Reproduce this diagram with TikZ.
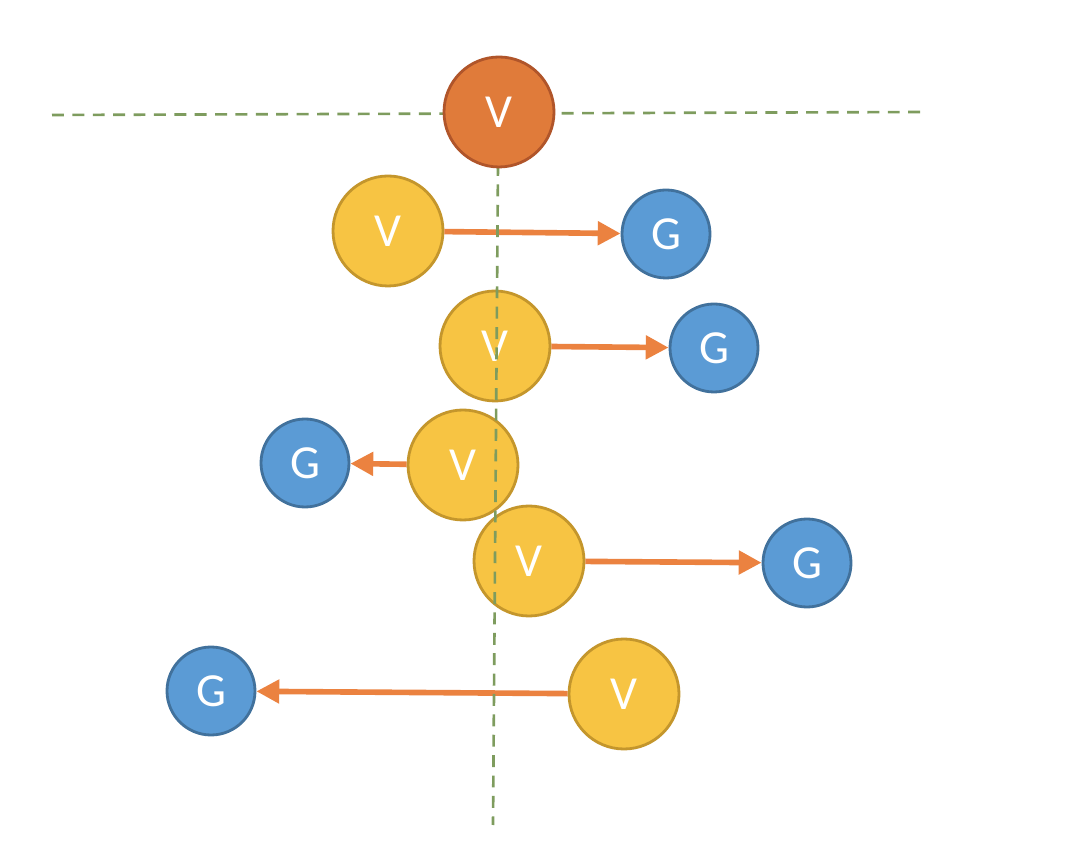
\documentclass[tikz,border=0pt]{standalone}
\usepackage{fontspec}
\setmainfont{Carlito}
\usetikzlibrary{arrows.meta}
\definecolor{vorange}{HTML}{E07B3A}
\definecolor{vorangedark}{HTML}{B0552A}
\definecolor{vyellow}{HTML}{F7C443}
\definecolor{vyellowdark}{HTML}{C4962C}
\definecolor{gblue}{HTML}{5B9BD5}
\definecolor{gbluedark}{HTML}{41719C}
\definecolor{axisgreen}{HTML}{7E9C5E}
\definecolor{arroworange}{HTML}{EB8240}
\begin{document}
\begin{tikzpicture}[
	vroot/.style={circle,draw=vorangedark,fill=vorange,line width=0.8pt,minimum size=1.1cm,inner sep=0pt,text=white,font=\fontsize{13.5}{15}\selectfont},
	vnode/.style={circle,draw=vyellowdark,fill=vyellow,line width=0.8pt,minimum size=1.1cm,inner sep=0pt,text=white,font=\fontsize{13.5}{15}\selectfont},
	gnode/.style={circle,draw=gbluedark,fill=gblue,line width=0.8pt,minimum size=0.88cm,inner sep=0pt,text=white,font=\fontsize{13.5}{15}\selectfont},
	axis/.style={axisgreen,line width=0.75pt,dash pattern=on 3.4pt off 2.4pt},
	push/.style={arroworange,line width=1.6pt,-{Triangle[length=6.5pt,width=6.5pt]}}]
		\useasboundingbox (0,0) rectangle (10.8,-8.47);
		% horizontal axis
		\coordinate (hl) at (0.52,-1.15);
		\coordinate (hr) at (9.25,-1.12);
		\draw[axis] (hl) -- (hr);
		% vertices and their goals
		\node[vnode] (v1) at (3.88,-2.31) {V};
		\node[gnode] (g1) at (6.66,-2.34) {G};
		\node[vnode] (v2) at (4.95,-3.46) {V};
		\node[gnode] (g2) at (7.14,-3.48) {G};
		\node[vnode] (v3) at (4.63,-4.65) {V};
		\node[gnode] (g3) at (3.05,-4.63) {G};
		\node[vnode] (v4) at (5.29,-5.61) {V};
		\node[gnode] (g4) at (8.07,-5.63) {G};
		\node[vnode] (v5) at (6.24,-6.94) {V};
		\node[gnode] (g5) at (2.11,-6.91) {G};
		\draw[push] (v1) -- (g1);
		\draw[push] (v2) -- (g2);
		\draw[push] (v3) -- (g3);
		\draw[push] (v4) -- (g4);
		\draw[push] (v5) -- (g5);
		% vertical axis
		\coordinate (vt) at (4.98,-1.64);
		\coordinate (vb) at (4.93,-8.25);
		\draw[axis] (vt) -- (vb);
		% root
		\node[vroot] (root) at (4.99,-1.12) {V};
\end{tikzpicture}
\end{document}
